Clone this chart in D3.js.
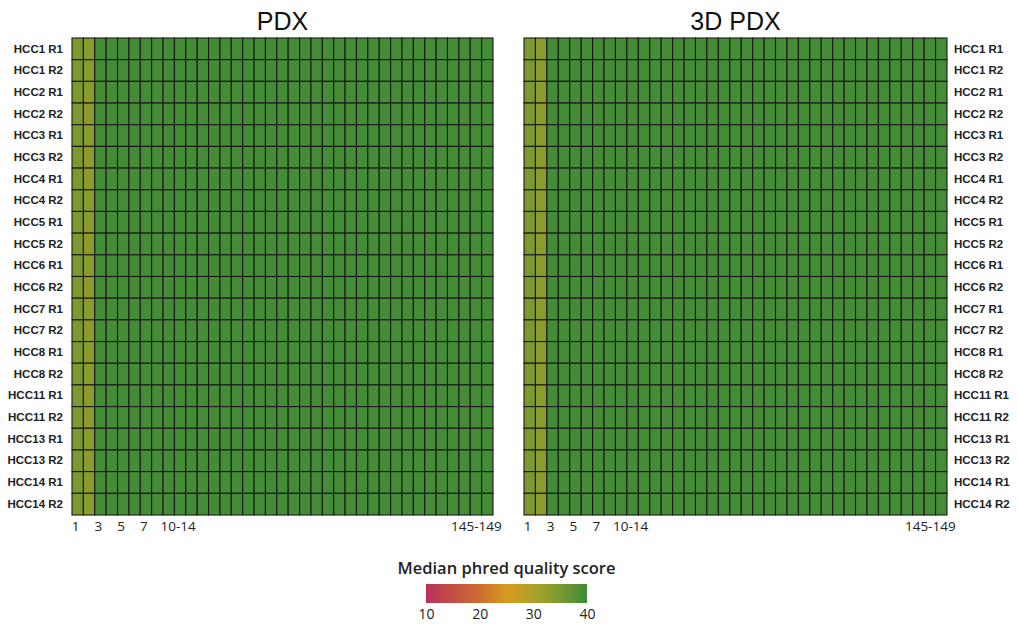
<!DOCTYPE html>
<html>
<head>
<meta charset="utf-8">
<script src="https://cdn.jsdelivr.net/npm/d3@7"></script>
<style>
  html, body { margin: 0; padding: 0; background: #fff; }
  svg { display: block; }
</style>
</head>
<body>
<svg id="chart" width="1018" height="624"></svg>
<script>
// Sequencing samples (rows), shared by both panels
const samples = [
  "HCC1 R1", "HCC1 R2", "HCC2 R1", "HCC2 R2", "HCC3 R1", "HCC3 R2",
  "HCC4 R1", "HCC4 R2", "HCC5 R1", "HCC5 R2", "HCC6 R1", "HCC6 R2",
  "HCC7 R1", "HCC7 R2", "HCC8 R1", "HCC8 R2", "HCC11 R1", "HCC11 R2",
  "HCC13 R1", "HCC13 R2", "HCC14 R1", "HCC14 R2"
];

// Read position bins (FastQC style grouping)
const positions = [
  "1", "2", "3", "4", "5", "6", "7", "8", "9",
  "10-14", "15-19", "20-24", "25-29", "30-34", "35-39", "40-44", "45-49",
  "50-54", "55-59", "60-64", "65-69", "70-74", "75-79", "80-84", "85-89",
  "90-94", "95-99", "100-104", "105-109", "110-114", "115-119", "120-124",
  "125-129", "130-134", "135-139", "140-144", "145-149"
];

// Labelled ticks on the position axis
const positionTicks = ["1", "3", "5", "7", "10-14", "145-149"];

// Median phred score per position bin (identical across all samples)
const pdxMedian = [
  35, 33.5, 39.5, 39.5, 39.5, 39.5, 39.5, 39.5, 39.5,
  39.5, 39.5, 39.5, 39.5, 39.5, 39.5, 39.5, 39.5,
  39.5, 39.5, 39.5, 39.5, 39.5, 39.5, 39.5, 39.5,
  39.5, 39.5, 39.5, 39.5, 39.5, 39.5, 39.5,
  39.5, 39.5, 39.5, 39.5, 39.5
];
const pdx3dMedian = [
  35, 33.5, 39.5, 39.5, 39.5, 39.5, 39.5, 39.5, 39.5,
  39.5, 39.5, 39.5, 39.5, 39.5, 39.5, 39.5, 39.5,
  39.5, 39.5, 39.5, 39.5, 39.5, 39.5, 39.5, 39.5,
  39.5, 39.5, 39.5, 39.5, 39.5, 39.5, 39.5,
  39.5, 39.5, 39.5, 39.5, 39.5
];

// Colour legend
const legendStops = [10, 20, 25, 30, 35, 40];
const legendColors = ["#b8325a", "#cf6c30", "#d69a1e", "#aea229", "#7a9a30", "#3e8a35"];
const legendTicks = [10, 20, 30, 40];

const svg = d3.select("#chart");

const color = d3.scaleLinear()
  .domain(legendStops)
  .range(legendColors)
  .interpolate(d3.interpolateRgb)
  .clamp(true);

const y = d3.scaleBand().domain(samples).range([38, 515]).paddingInner(0).paddingOuter(0);

const labelFont = "'Liberation Sans', Arial, sans-serif";
const axisFont = "'Open Sans', 'Noto Sans', sans-serif";

function panel(title, medians, x0, x1, labelSide) {
  const x = d3.scaleBand().domain(positions).range([x0, x1]);
  const g = svg.append("g");

  const cells = [];
  samples.forEach(s => positions.forEach((p, i) => cells.push({ s, p, v: medians[i] })));

  g.selectAll("rect.cell").data(cells).join("rect")
    .attr("class", "cell")
    .attr("x", d => x(d.p))
    .attr("y", d => y(d.s))
    .attr("width", x.bandwidth())
    .attr("height", y.bandwidth())
    .attr("fill", d => color(d.v))
    .attr("stroke", "#1a1a1a")
    .attr("stroke-width", 1.1);

  // Panel title
  g.append("text")
    .attr("x", (x0 + x1) / 2)
    .attr("y", 30)
    .attr("text-anchor", "middle")
    .attr("font-family", "'Liberation Sans', Arial, sans-serif")
    .attr("font-size", 25)
    .attr("fill", "#111")
    .text(title);

  // Position axis
  const xAxis = d3.axisBottom(x).tickValues(positionTicks).tickSize(0).tickPadding(0);
  const ax = g.append("g").attr("transform", `translate(0, ${y.range()[1] + 5})`).call(xAxis);
  ax.select(".domain").remove();
  ax.selectAll("text")
    .attr("font-family", axisFont)
    .attr("font-size", 13.5)
    .attr("fill", "#222")
    .attr("dy", "0.85em")
    .attr("dx", d => d === "145-149" ? -11 : -2);

  // Sample axis
  const yAxis = (labelSide === "left" ? d3.axisLeft(y) : d3.axisRight(y)).tickSize(0).tickPadding(0);
  const ay = g.append("g")
    .attr("transform", `translate(${labelSide === "left" ? x0 - 9 : x1 + 7}, 0)`)
    .call(yAxis);
  ay.select(".domain").remove();
  ay.selectAll("text")
    .attr("font-family", labelFont)
    .attr("font-size", 11.5)
    .attr("font-weight", "bold")
    .attr("fill", "#222");
}

panel("PDX", pdxMedian, 72, 493, "left");
panel("3D PDX", pdx3dMedian, 524, 947, "right");

// Legend
const lx0 = 426, lx1 = 587, ly = 584, lh = 19;
const defs = svg.append("defs");
const grad = defs.append("linearGradient").attr("id", "phredGrad").attr("x1", "0%").attr("x2", "100%");
const lScale = d3.scaleLinear().domain([legendStops[0], legendStops[legendStops.length - 1]]).range([lx0, lx1]);
legendStops.forEach((v, i) => {
  grad.append("stop")
    .attr("offset", ((v - legendStops[0]) / (legendStops[legendStops.length - 1] - legendStops[0]) * 100) + "%")
    .attr("stop-color", legendColors[i]);
});
svg.append("rect")
  .attr("x", lx0).attr("y", ly).attr("width", lx1 - lx0).attr("height", lh)
  .attr("fill", "url(#phredGrad)");

svg.append("text")
  .attr("x", (lx0 + lx1) / 2)
  .attr("y", 574)
  .attr("text-anchor", "middle")
  .attr("font-family", axisFont)
  .attr("font-size", 16.5)
  .attr("font-weight", 600)
  .attr("fill", "#222")
  .text("Median phred quality score");

const lAxis = d3.axisBottom(lScale).tickValues(legendTicks).tickSize(0).tickPadding(0);
const la = svg.append("g").attr("transform", `translate(0, ${ly + lh + 4})`).call(lAxis);
la.select(".domain").remove();
la.selectAll("text")
  .attr("font-family", axisFont)
  .attr("font-size", 14)
  .attr("fill", "#222")
  .attr("dy", "0.85em");
</script>
</body>
</html>
